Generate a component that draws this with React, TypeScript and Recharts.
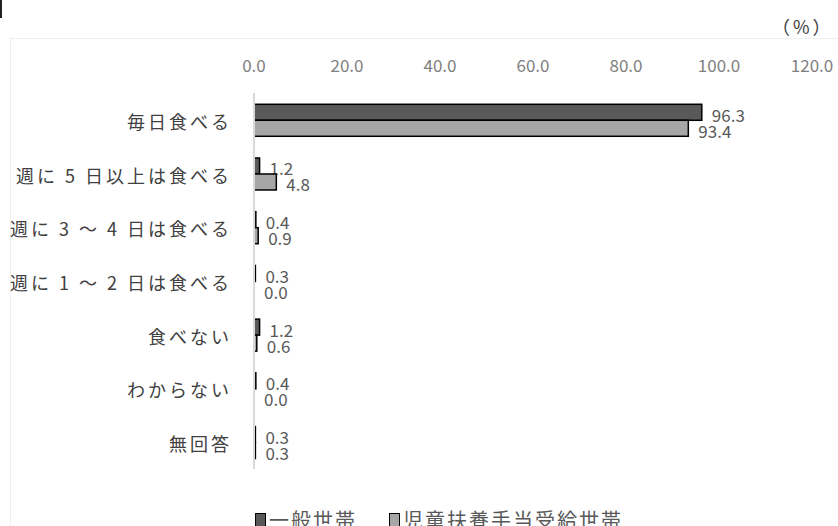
import React from "react";
import { BarChart, Bar, XAxis, YAxis } from "recharts";

const categories = [
  "毎日食べる",
  "週に 5 日以上は食べる",
  "週に 3 ～ 4 日は食べる",
  "週に 1 ～ 2 日は食べる",
  "食べない",
  "わからない",
  "無回答",
];
const ippan = [96.3, 1.2, 0.4, 0.3, 1.2, 0.4, 0.3];
const jido = [93.4, 4.8, 0.9, 0.0, 0.6, 0.0, 0.3];
const xTicks = [0, 20, 40, 60, 80, 100, 120];

const seriesNames = ["一般世帯", "児童扶養手当受給世帯"];
const seriesColors = ["#595959", "#a6a6a6"];

const FONT = "'Noto Sans CJK JP', 'Noto Sans', sans-serif";

const data = categories.map((name, i) => ({ name, ippan: ippan[i], jido: jido[i] }));

// draws the bar and its value label together, so 0.0 still gets a label
const BarWithLabel = (props: any) => {
  const { x, y, width, height, fill, value } = props;
  const v = Array.isArray(value) ? value[1] - value[0] : value;
  const w = Math.max(0, Number(width) || 0);
  return (
    <g>
      {w > 0 && (
        <rect x={x} y={y} width={w} height={height} fill={fill} stroke="#000" strokeWidth={1.5} />
      )}
      <text
        x={Number(x) + w + 10}
        y={Number(y) + Number(height) / 2 + 2}
        dominantBaseline="central"
        fontSize={17}
        fill="#595959"
        fontFamily={FONT}
      >
        {Number(v).toFixed(1)}
      </text>
    </g>
  );
};

const CatTick = ({ y, payload }: any) => (
  <text
    x={232}
    y={y + 1}
    textAnchor="end"
    dominantBaseline="central"
    fontSize={18}
    letterSpacing={3}
    fill="#404040"
    fontFamily={FONT}
  >
    {payload.value}
  </text>
);

const TopTick = ({ x, payload }: any) => (
  <text x={x} y={64} textAnchor="middle" dominantBaseline="central" fontSize={17} fill="#808080" fontFamily={FONT}>
    {Number(payload.value).toFixed(1)}
  </text>
);

export default function App() {
  return (
    <div style={{ position: "absolute", left: 0, top: 0, width: 838, height: 526, overflow: "hidden", background: "#fff" }}>
      <div style={{ position: "absolute", left: 0, top: 0, width: 2, height: 18, background: "#222" }} />
      <div style={{ position: "absolute", left: 10, top: 38, width: 840, height: 500, border: "1px solid #efefef" }} />
      <div
        style={{
          position: "absolute",
          left: 772,
          top: 13,
          fontSize: 18,
          letterSpacing: 3,
          color: "#404040",
          fontFamily: FONT,
        }}
      >
        （%）
      </div>
      <div style={{ position: "absolute", left: 0, top: 0 }}>
        <BarChart
          width={838}
          height={526}
          data={data}
          layout="vertical"
          margin={{ top: 63, right: 26, bottom: 57, left: 10 }}
          barCategoryGap="21%"
          barGap={0}
        >
          <XAxis
            type="number"
            orientation="top"
            domain={[0, 120]}
            ticks={xTicks}
            axisLine={false}
            tickLine={false}
            tick={<TopTick />}
            height={30}
          />
          <YAxis
            type="category"
            dataKey="name"
            width={244}
            axisLine={{ stroke: "#d9d9d9", strokeWidth: 2 }}
            tickLine={false}
            tick={<CatTick />}
            interval={0}
          />
          <Bar dataKey="ippan" fill={seriesColors[0]} shape={<BarWithLabel />} isAnimationActive={false} />
          <Bar dataKey="jido" fill={seriesColors[1]} shape={<BarWithLabel />} isAnimationActive={false} />
        </BarChart>
      </div>
      <div
        style={{
          position: "absolute",
          left: 255,
          top: 505,
          display: "flex",
          alignItems: "center",
          fontFamily: FONT,
          fontSize: 20,
          letterSpacing: 2,
          color: "#595959",
          whiteSpace: "nowrap",
        }}
      >
        {seriesNames.map((n, i) => (
          <div key={n} style={{ display: "flex", alignItems: "center", marginRight: 32 }}>
            <span
              style={{
                display: "inline-block",
                width: 9,
                height: 12,
                background: seriesColors[i],
                border: "1px solid #000",
                marginRight: 3,
              }}
            />
            <span>{n}</span>
          </div>
        ))}
      </div>
    </div>
  );
}
